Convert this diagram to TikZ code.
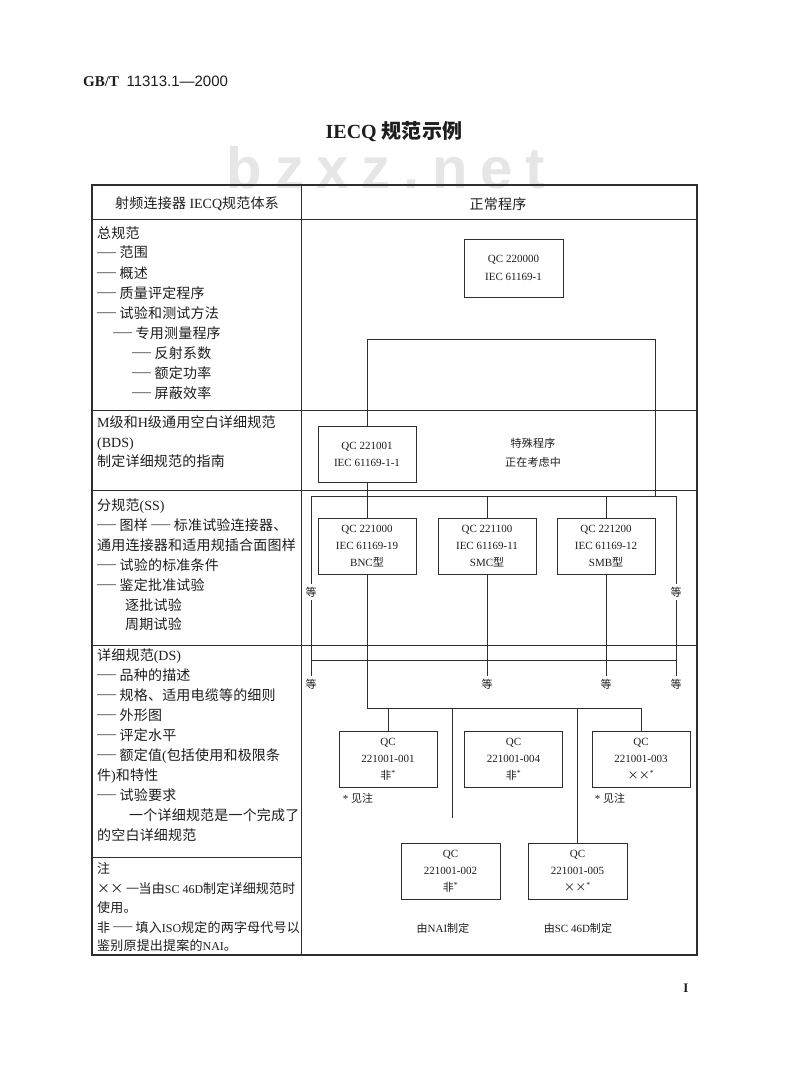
\documentclass[tikz,border=0pt]{standalone}
\usepackage{fontspec}
\setmainfont{Liberation Serif}
\newfontfamily\cjkfont{Noto Sans CJK SC}
\newfontfamily\hdsans{Liberation Sans}
\newfontfamily\wmfont{Liberation Sans}[LetterSpace=22]
\definecolor{linec}{HTML}{2E2E2E}
\definecolor{txtc}{HTML}{1E1E1E}
\definecolor{wmc}{HTML}{E6E6E6}
% automatic switch to the CJK font for CJK characters
\chardef\mycjkclass=200
\newcount\mycnt
\mycnt=0
\loop
  \XeTeXcharclass\mycnt=0
  \advance\mycnt by 1
\ifnum\mycnt<"3000 \repeat
\def\setcjkrange#1#2{\mycnt=#1 \loop\XeTeXcharclass\mycnt=\mycjkclass\advance\mycnt by 1 \ifnum\mycnt<#2 \repeat}
\setcjkrange{"3000}{"3040}
\setcjkrange{"4E00}{"A000}
\setcjkrange{"FF00}{"FFF0}
\XeTeXcharclass"00D7=\mycjkclass
\XeTeXinterchartoks 0 \mycjkclass = {\cjkfont}
\XeTeXinterchartoks 4095 \mycjkclass = {\cjkfont}
\XeTeXinterchartoks \mycjkclass 0 = {\rmfamily}
\XeTeXinterchartoks \mycjkclass 4095 = {\rmfamily}
\XeTeXinterchartoks \mycjkclass \mycjkclass = {\hskip0.2pt\relax}
\XeTeXinterchartokenstate=1
\newcommand\dd{\raisebox{2.4pt}{\rmfamily\bfseries\fontsize{9.5}{9.5}\selectfont ——}}
\newcommand\sd{\raisebox{1.8pt}{\rmfamily\bfseries\fontsize{12}{12}\selectfont —}}
\newcommand\lat[1]{{\fontsize{12}{19}\selectfont #1}}
\tikzset{
  frame/.style={draw=linec, line width=1.1pt},
  ln/.style={draw=linec, line width=0.8pt},
  bx/.style={draw=linec, line width=0.8pt, minimum width=98pt, minimum height=56pt,
    align=center, inner sep=0pt, font=\fontsize{11}{17}\selectfont, text=txtc},
  lt/.style={anchor=base west, inner sep=0pt, font=\fontsize{14}{20}\selectfont, text=txtc},
  nt/.style={anchor=base west, inner sep=0pt, font=\fontsize{13}{19}\selectfont, text=txtc},
  st/.style={inner sep=0pt, font=\fontsize{11}{19}\selectfont, text=txtc, align=center},
  etc/.style={inner sep=2.5pt, font=\fontsize{11}{13}\selectfont, text=txtc},
}
\begin{document}
\begin{tikzpicture}[x=1pt,y=-1pt]
\useasboundingbox[fill=white] (0,0) rectangle (800,1091);
% watermark
\node[text=wmc, inner sep=0pt, anchor=base, font=\fontsize{58}{58}\wmfont\bfseries] (wm) at (386,189) {bzxz.net};
% page header and title
\node[anchor=west, inner sep=0pt, text=txtc, font=\fontsize{15}{18}\selectfont] (gb) at (83,81) {\textbf{GB/T}\ \ {\hdsans 11313.1—2000}};
\node[text=txtc, font=\bfseries\fontsize{20}{24}\selectfont] (title) at (394,132) {IECQ 规范示例};
\node[text=txtc, font=\bfseries\fontsize{13}{13}\selectfont] (pg) at (686,988) {I};
% table frame
\draw[frame] (92,185) rectangle (697,955);
\draw[ln] (92,219) -- (697,219);
\draw[ln] (301,185) -- (301,955);
\draw[ln] (92,410) -- (697,410);
\draw[ln] (92,490) -- (697,490);
\draw[ln] (92,645) -- (697,645);
\draw[ln] (92,857) -- (301,857);
% header row
\node[lt, anchor=center] (hl) at (197,204) {射频连接器 IECQ规范体系};
\node[lt, anchor=center] (hr) at (498,204) {正常程序};
% row 1
\node[lt] (a1) at (97,238) {总规范};
\node[lt] (a2) at (97,258) {\dd\ 范围};
\node[lt] (a3) at (97,278) {\dd\ 概述};
\node[lt] (a4) at (97,298) {\dd\ 质量评定程序};
\node[lt] (a5) at (97,318) {\dd\ 试验和测试方法};
\node[lt] (a6) at (113,338) {\dd\ 专用测量程序};
\node[lt] (a7) at (132,358) {\dd\ 反射系数};
\node[lt] (a8) at (132,378) {\dd\ 额定功率};
\node[lt] (a9) at (132,398) {\dd\ 屏蔽效率};
% row 2
\node[lt] (b1) at (97,427) {M级和H级通用空白详细规范};
\node[lt] (b2) at (97,447) {(BDS)};
\node[lt] (b3) at (97,466) {制定详细规范的指南};
% row 3
\node[lt] (c1) at (97,510) {分规范(SS)};
\node[lt] (c2) at (97,530) {\dd\ 图样 \dd\ 标准试验连接器、};
\node[lt] (c3) at (97,550) {通用连接器和适用规插合面图样};
\node[lt] (c4) at (97,570) {\dd\ 试验的标准条件};
\node[lt] (c5) at (97,590) {\dd\ 鉴定批准试验};
\node[lt] (c6) at (125,610) {逐批试验};
\node[lt] (c7) at (125,629) {周期试验};
% row 4
\node[lt] (d1) at (97,660) {详细规范(DS)};
\node[lt] (d2) at (97,680) {\dd\ 品种的描述};
\node[lt] (d3) at (97,700) {\dd\ 规格、适用电缆等的细则};
\node[lt] (d4) at (97,720) {\dd\ 外形图};
\node[lt] (d5) at (97,740) {\dd\ 评定水平};
\node[lt] (d6) at (97,760) {\dd\ 额定值(包括使用和极限条};
\node[lt] (d7) at (97,780) {件)和特性};
\node[lt] (d8) at (97,800) {\dd\ 试验要求};
\node[lt] (d9) at (129,820) {一个详细规范是一个完成了};
\node[lt] (d10) at (97,840) {的空白详细规范};
% row 5
\node[nt] (e1) at (97,873) {注};
\node[nt] (e2) at (97,893) {×× \sd 当由\lat{SC 46D}制定详细规范时};
\node[nt] (e3) at (97,912) {使用。};
\node[nt] (e4) at (97,932) {非 \dd\ 填入\lat{ISO}规定的两字母代号以};
\node[nt] (e5) at (97,950) {鉴别原提出提案的\lat{NAI}。};
% right column boxes
\node[bx, minimum width=99pt, minimum height=58pt, font=\fontsize{11}{18}\selectfont] (qa) at (513.5,268) {QC 220000\\IEC 61169-1};
\node[bx] (qb) at (367,454) {QC 221001\\IEC 61169-1-1};
\node[st] (sp) at (533,452.5) {特殊程序\\正在考虑中};
\node[bx] (qc1) at (367,546) {QC 221000\\IEC 61169-19\\BNC型};
\node[bx] (qc2) at (487,546) {QC 221100\\IEC 61169-11\\SMC型};
\node[bx] (qc3) at (606,546) {QC 221200\\IEC 61169-12\\SMB型};
\node[bx] (qd1) at (388,759) {QC\\221001-001\\非\textsuperscript{*}};
\node[bx] (qd2) at (513.5,759) {QC\\221001-004\\非\textsuperscript{*}};
\node[bx] (qd3) at (641,759) {QC\\221001-003\\××\textsuperscript{*}};
\node[bx, minimum width=99pt] (qe1) at (450.5,871) {QC\\221001-002\\非\textsuperscript{*}};
\node[bx, minimum width=99pt] (qe2) at (577.5,871) {QC\\221001-005\\××\textsuperscript{*}};
% small labels
\node[st] (n1) at (358,798) {* 见注};
\node[st] (n2) at (610,798) {* 见注};
\node[st] (n3) at (443,928) {由NAI制定};
\node[st] (n4) at (578,928) {由SC 46D制定};
% etc labels
\node[etc] (t1) at (311,592) {等};
\node[etc] (t2) at (676,592) {等};
\node[etc] (t3) at (311,684) {等};
\node[etc] (t4) at (487,684) {等};
\node[etc] (t5) at (606,684) {等};
\node[etc] (t6) at (676,684) {等};
% connectors
\coordinate (k1) at (367,339);
\coordinate (k2) at (655,339);
\coordinate (h1) at (311,496);
\coordinate (h2) at (676,496);
\coordinate (g1) at (311,660);
\coordinate (g2) at (676,660);
\coordinate (m1) at (367,708);
\coordinate (m2) at (641,708);
\coordinate (f1) at (452,818);
\draw[ln] (qb.north) -- (k1) -- (k2) -- (k2 |- h1);
\draw[ln] (h1) -- (h2);
\draw[ln] (qb.south) -- (qc1.north);
\draw[ln] (qc2.north) -- (qc2.north |- h1);
\draw[ln] (qc3.north) -- (qc3.north |- h1);
\draw[ln] (h1) -- (t1.north);
\draw[ln] (t1.south) -- (t3.north);
\draw[ln] (h2) -- (t2.north);
\draw[ln] (t2.south) -- (t6.north);
\draw[ln] (g1) -- (g2);
\draw[ln] (qc2.south) -- (t4.north);
\draw[ln] (qc3.south) -- (t5.north);
\draw[ln] (qc1.south) -- (m1) -- (m2) -- (qd3.north);
\draw[ln] (qd1.north |- m1) -- (qd1.north);
\draw[ln] (f1 |- m1) -- (f1);
\draw[ln] (qe2.north |- m1) -- (qe2.north);
\end{tikzpicture}
\end{document}
